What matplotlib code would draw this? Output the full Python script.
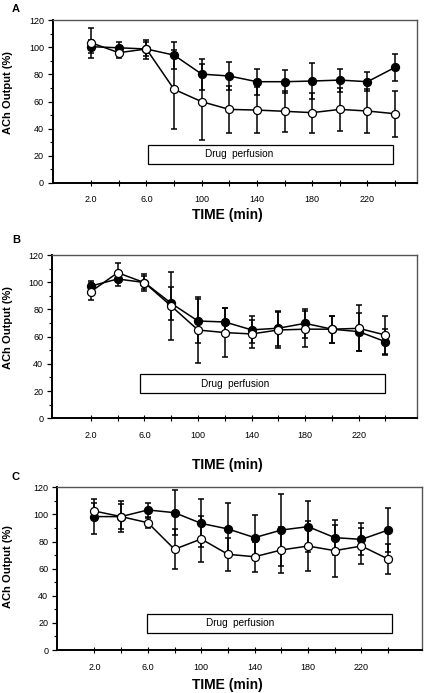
"""
plot.py
-------
ACh output (%) over time for three conditions (A, B, C), two groups each,
with a drug perfusion period marked by a box.
"""

import matplotlib
matplotlib.use("Agg")
import matplotlib.pyplot as plt
from matplotlib.patches import Rectangle
from matplotlib.ticker import MultipleLocator


# ---------------------------------------------------------------------------
# Data
# ---------------------------------------------------------------------------

SAMPLES = [1, 2, 3, 4, 5, 6, 7, 8, 9, 10, 11, 12]
TICK_POS = [1, 3, 5, 7, 9, 11]
TICK_LABELS = ["2.0", "6.0", "100", "140", "180", "220"]

A_FILLED = [100.4, 99.6, 98.7, 94.2, 80.2, 78.8, 74.6, 74.6, 75.1, 75.8, 74.6, 85.2]
A_FILLED_ERR = [5, 4, 5, 10, 11.5, 10.5, 9.5, 8.5, 13.5, 8.5, 7, 10]
A_OPEN = [103.3, 96.0, 98.7, 69.0, 59.9, 54.2, 53.7, 52.8, 51.8, 54.2, 53.0, 51.0]
A_OPEN_ERR = [11, 4, 7, 29, 28, 17.6, 17, 15.3, 14.8, 15.7, 16.4, 17]

B_FILLED = [97.2, 102.4, 99.8, 84.5, 71.5, 70.8, 65.0, 66.2, 69.8, 65.5, 63.7, 56.3]
B_FILLED_ERR = [4, 5, 5, 12, 16, 10, 10, 13, 10.5, 10, 14, 9.5]
B_OPEN = [93.1, 107.0, 99.7, 82.5, 64.9, 63.0, 62.0, 64.9, 65.5, 65.5, 66.1, 61.2]
B_OPEN_ERR = [6, 7, 6, 25, 24, 18, 10, 13, 13, 10, 17, 14]

C_FILLED = [98.4, 98.4, 103.3, 101.3, 93.4, 89.3, 82.9, 88.5, 91.0, 82.9, 81.6, 88.5]
C_FILLED_ERR = [12.7, 11.5, 5, 16.5, 17.7, 19, 16.7, 26.6, 19, 12.7, 11.8, 16]
C_OPEN = [102.5, 98.4, 93.9, 74.3, 81.9, 70.6, 68.8, 73.8, 76.7, 73.3, 76.7, 67.1]
C_OPEN_ERR = [6.2, 9, 3.7, 14.6, 17.2, 12.3, 11, 17.2, 18.4, 19.2, 13.5, 11.3]

BOX_TEXT = "Drug  perfusion"
Y_LABEL = "ACh Output (%)"
X_LABEL = "TIME (min)"


# ---------------------------------------------------------------------------
# Style
# ---------------------------------------------------------------------------

plt.rcParams["font.family"] = ["Liberation Sans", "DejaVu Sans"]

# axes rectangles in figure fraction, x limits, drug box (x0, x1, y0, y1), label y (px)
PANELS = [
    dict(letter="A", rect=[0.1244, 0.736, 0.855, 0.235], xlim=(-0.38, 12.8),
         box=(3.04, 11.92, 13.8, 28.2), text_x=6.36,
         filled=A_FILLED, filled_err=A_FILLED_ERR, open=A_OPEN, open_err=A_OPEN_ERR,
         letter_y=9, ylab_y=93, xlab_y=215),
    dict(letter="B", rect=[0.1228, 0.3964, 0.855, 0.2356], xlim=(-0.44, 13.16),
         box=(2.83, 12.0, 18.4, 32.5), text_x=6.37,
         filled=B_FILLED, filled_err=B_FILLED_ERR, open=B_OPEN, open_err=B_OPEN_ERR,
         letter_y=240, ylab_y=328, xlab_y=465),
    dict(letter="C", rect=[0.1345, 0.0620, 0.855, 0.2348], xlim=(-0.39, 13.25),
         box=(2.97, 12.16, 12.8, 26.8), text_x=6.46,
         filled=C_FILLED, filled_err=C_FILLED_ERR, open=C_OPEN, open_err=C_OPEN_ERR,
         letter_y=477, ylab_y=567, xlab_y=685),
]

W, H = 426, 693


def draw_panel(fig, p):
    ax = fig.add_axes(p["rect"])

    for vals, errs, face in [(p["filled"], p["filled_err"], "black"),
                             (p["open"], p["open_err"], "white")]:
        ax.errorbar(SAMPLES, vals, yerr=errs, fmt="none", ecolor="black",
                    elinewidth=1.1, capsize=2.0, capthick=1.1, zorder=2)
        ax.plot(SAMPLES, vals, color="black", lw=1.1, marker="o", ms=5.8,
                mfc=face, mec="black", mew=0.9, zorder=3 if face == "black" else 4)

    x0, x1, y0, y1 = p["box"]
    ax.add_patch(Rectangle((x0, y0), x1 - x0, y1 - y0, fill=False,
                           edgecolor="black", lw=0.9, zorder=1))
    ax.text(p["text_x"], (y0 + y1) / 2, BOX_TEXT, ha="center", va="center",
            fontsize=7.2)

    ax.set_xlim(*p["xlim"])
    ax.set_ylim(0, 120)
    ax.set_xticks(SAMPLES, minor=True)
    ax.set_xticks(TICK_POS)
    ax.set_xticklabels(TICK_LABELS, fontsize=6.5)
    ax.tick_params(axis="x", which="both", direction="inout", length=4,
                   width=0.8, pad=7)
    ax.set_yticks(range(0, 121, 20))
    ax.yaxis.set_minor_locator(MultipleLocator(10))
    ax.tick_params(axis="y", which="major", direction="out", length=3.5,
                   width=0.9, labelsize=6.5, pad=3)
    ax.tick_params(axis="y", which="minor", direction="out", length=2, width=0.8)

    for side in ["left", "bottom"]:
        ax.spines[side].set_linewidth(1.4)
    for side in ["top", "right"]:
        ax.spines[side].set_linewidth(1.0)
        ax.spines[side].set_color("#555555")

    fig.text(12 / W, 1 - p["letter_y"] / H, p["letter"], fontsize=8,
             fontweight="bold", ha="left", va="center")
    fig.text(8 / W, 1 - p["ylab_y"] / H, Y_LABEL, fontsize=8,
             fontweight="bold", rotation=90, ha="center", va="center")
    fig.text(227 / W, 1 - p["xlab_y"] / H, X_LABEL, fontsize=10,
             fontweight="bold", ha="center", va="center")
    return ax


fig = plt.figure(figsize=(4.26, 6.93), dpi=100)
for panel in PANELS:
    draw_panel(fig, panel)

fig.savefig("out.png", dpi=100)
